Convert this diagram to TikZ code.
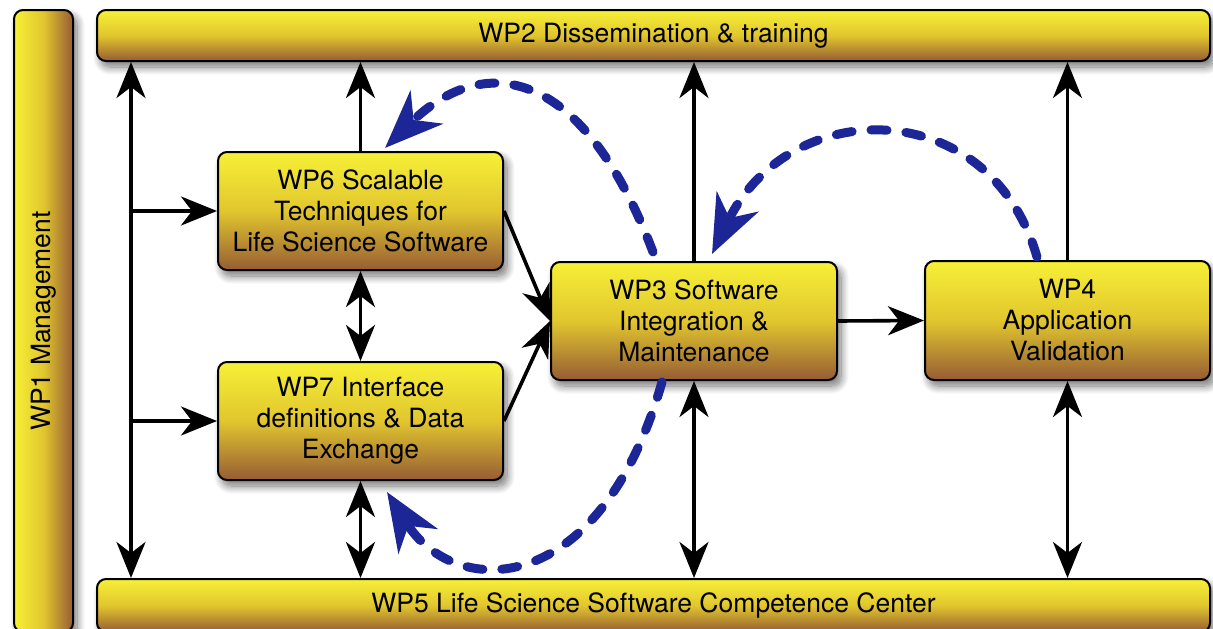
\documentclass[tikz,border=0pt]{standalone}
\usepackage{fontspec}
\setmainfont{TeX Gyre Heros}
\usetikzlibrary{arrows.meta,shadows.blur,calc}

\definecolor{wpyellow}{RGB}{247,240,55}
\definecolor{wpgold}{RGB}{225,198,46}
\definecolor{wpbrown}{RGB}{150,92,52}
\definecolor{flowblue}{RGB}{28,38,150}

\newcommand\wpfont{\fontsize{26.5}{31}\selectfont}

\tikzset{
  wpshadow/.style={blur shadow={shadow xshift=4pt, shadow yshift=-6pt,
      shadow blur radius=8pt, shadow blur steps=12, shadow opacity=55}},
  wpbox/.style={draw=black, line width=2pt, rounded corners=9pt,
      top color=wpyellow, bottom color=wpbrown, middle color=wpgold,
      wpshadow, font=\wpfont, align=center, inner sep=0pt},
  wpvbox/.style={draw=black, line width=2pt, rounded corners=9pt,
      left color=wpyellow, right color=wpbrown, middle color=wpgold,
      wpshadow, font=\wpfont, inner sep=0pt},
  blacktip/.tip={Stealth[length=36pt,width=29pt,inset=11pt]},
  arr/.style={line width=3.6pt, -blacktip},
  dbl/.style={line width=3.6pt, blacktip-blacktip},
  flow/.style={draw=flowblue, line width=9pt, line cap=round,
      dash pattern=on 16pt off 19pt,
      -{Stealth[length=58pt,width=46pt,inset=18pt]}},
}

\begin{document}
\begin{tikzpicture}[x=1pt,y=-1pt]
  \useasboundingbox (0,0) rectangle (1213,629);
  \clip (0,0) rectangle (1213,629);

  % work packages
  \node[wpvbox, minimum width=59pt, minimum height=622pt] (WP1) at (43.5,321)
    {\rotatebox{90}{WP1 Management}};
  \node[wpbox, minimum width=1113pt, minimum height=51pt] (WP2) at (653.5,35.5)
    {WP2 Dissemination \& training};
  \node[wpbox, minimum width=1113pt, minimum height=53pt] (WP5) at (653.5,605.5)
    {WP5 Life Science Software Competence Center};
  \node[wpbox, minimum width=285pt, minimum height=118pt] (WP6) at (360.5,211)
    {WP6 Scalable\\Techniques for\\Life Science Software};
  \node[wpbox, minimum width=285pt, minimum height=118pt] (WP7) at (360.5,421)
    {WP7 Interface\\definitions \& Data\\Exchange};
  \node[wpbox, minimum width=286pt, minimum height=118pt] (WP3) at (694,321)
    {WP3 Software\\Integration \&\\Maintenance};
  \node[wpbox, minimum width=285pt, minimum height=119pt] (WP4) at (1067.5,320.5)
    {WP4\\Application\\Validation};

  % management bus
  \coordinate (bus) at (131,300);
  \draw[dbl] (bus |- WP2.south) -- (bus |- WP5.north);
  \draw[arr] (bus |- WP6.west) -- (WP6.west);
  \draw[arr] (bus |- WP7.west) -- (WP7.west);

  % links between work packages
  \draw[arr] (WP6.north) -- (WP6.north |- WP2.south);
  \draw[dbl] (WP6.south) -- (WP7.north);
  \draw[dbl] (WP7.south) -- (WP7.south |- WP5.north);
  \draw[arr] (WP6.east) -- (WP3.west);
  \draw[arr] (WP7.east) -- (WP3.west);
  \draw[arr] (WP3.north) -- (WP3.north |- WP2.south);
  \draw[dbl] (WP3.south) -- (WP3.south |- WP5.north);
  \draw[arr] (WP3.east) -- (WP4.west);
  \draw[arr] (WP4.north) -- (WP4.north |- WP2.south);
  \draw[dbl] (WP4.south) -- (WP4.south |- WP5.north);

  % feedback loops
  \coordinate (f1s) at (653,252);
  \coordinate (f1e) at (385,148);
  \coordinate (f2s) at (1037,257);
  \coordinate (f2e) at (712,254);
  \coordinate (f3s) at (662,382);
  \coordinate (f3e) at (387,492);
  \draw[flow] (f1s) .. controls (580,60) and (480,55) .. (f1e);
  \draw[flow] (f2s) .. controls (990,94) and (790,94) .. (f2e);
  \draw[flow] (f3s) .. controls (600,600) and (455,600) .. (f3e);
\end{tikzpicture}
\end{document}
